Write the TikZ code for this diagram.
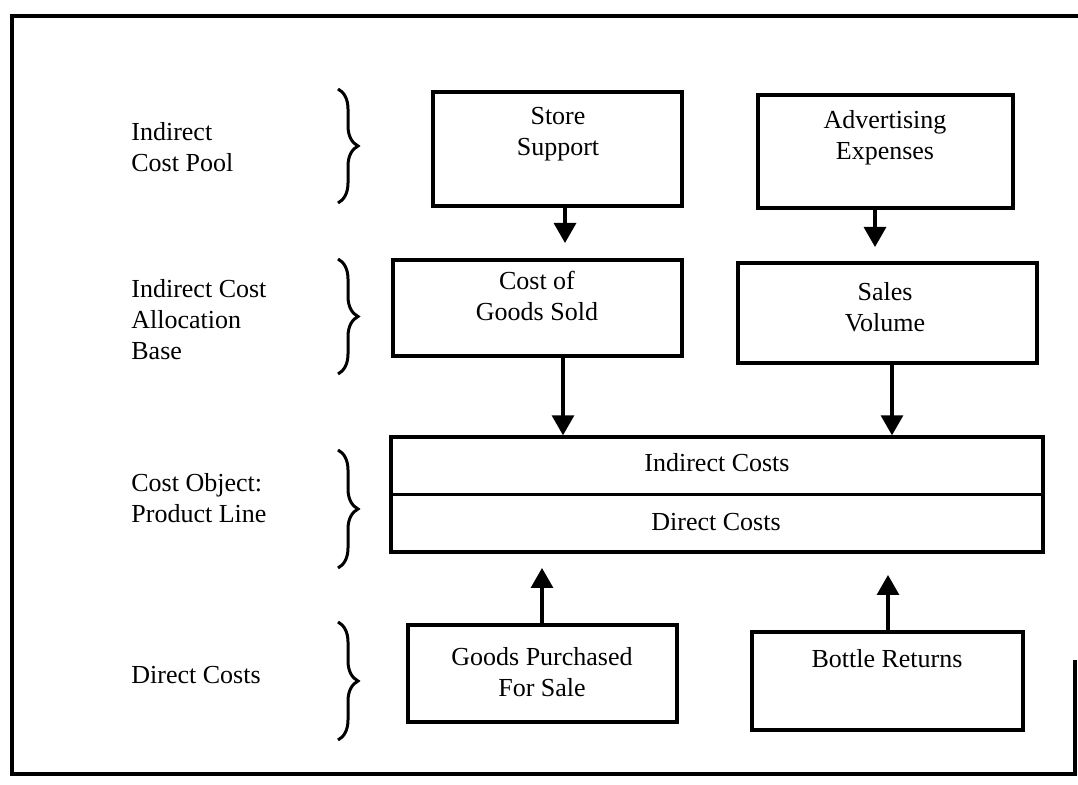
\documentclass[tikz,border=0pt]{standalone}
\usepackage{fontspec}
\setmainfont{Liberation Serif}
\usetikzlibrary{arrows.meta,decorations.pathreplacing}

\tikzset{
  box/.style={draw, line width=1.7pt, inner sep=0pt},
  txt/.style={align=center, inner sep=0pt, font=\fontsize{13pt}{15.5pt}\selectfont},
  side/.style={align=left, anchor=west, inner sep=0pt, font=\fontsize{13pt}{15.5pt}\selectfont},
  arr/.style={line width=1.6pt, -{Triangle[width=11pt,length=10pt]}},
  curly/.style={decorate, decoration={brace, amplitude=10pt}, line width=1.5pt}
}

\begin{document}
\begin{tikzpicture}[x=0.5pt, y=-0.5pt]
    \useasboundingbox (0,0) rectangle (1078,785);
    % outer frame
    \draw[line width=1.7pt] (1078,16) -- (12,16) -- (12,774) -- (1075,774) -- (1075,660);

    % level labels and braces
    \node[side] (lpool) at (131,147) {Indirect\\Cost Pool};
    \node[side] (lbase) at (131,320) {Indirect Cost\\Allocation\\Base};
    \node[side] (lobj) at (131,498) {Cost Object:\\Product Line};
    \node[side] (ldir) at (131,675) {Direct Costs};
    \draw[curly] (338,89) -- (338,203);
    \draw[curly] (338,259) -- (338,374);
    \draw[curly] (338,450) -- (338,568);
    \draw[curly] (338,622) -- (338,740);

    % cost pools
    \node[box, minimum width=124.5pt, minimum height=57pt] (store) at (557.5,149) {};
    \node[txt] (storetxt) at (558,134) {Store\\Support};
    \node[box, minimum width=127.5pt, minimum height=56.5pt] (adv) at (885.5,151.5) {};
    \node[txt] (advtxt) at (885,138) {Advertising\\Expenses};

    % allocation bases
    \node[box, minimum width=144.5pt, minimum height=48pt] (cgs) at (537.5,308) {};
    \node[txt] (cgstxt) at (537,296) {Cost of\\Goods Sold};
    \node[box, minimum width=149.5pt, minimum height=50pt] (sv) at (887.5,313) {};
    \node[txt] (svtxt) at (885,307) {Sales\\Volume};

    % cost object
    \node[box, minimum width=326pt, minimum height=57.5pt] (obj) at (717,494.5) {};
    \draw[line width=1.7pt] (obj.west) -- (obj.east);
    \node[txt] (indtxt) at (717,463) {Indirect Costs};
    \node[txt] (dirtxt) at (716,522) {Direct Costs};

    % direct costs
    \node[box, minimum width=134.5pt, minimum height=48.5pt] (goods) at (542.5,673.5) {};
    \node[txt] (goodstxt) at (542,672) {Goods Purchased\\For Sale};
    \node[box, minimum width=135.5pt, minimum height=49pt] (bottle) at (887.5,681) {};
    \node[txt] (bottletxt) at (887,659) {Bottle Returns};

    % arrows
    \coordinate (t1) at (565,243);
    \coordinate (t2) at (875,247);
    \coordinate (t3) at (563,437);
    \coordinate (t4) at (892,437);
    \coordinate (t5) at (542,568);
    \coordinate (t6) at (888,575);
    \draw[arr] (store.south -| t1) -- (t1);
    \draw[arr] (adv.south -| t2) -- (t2);
    \draw[arr] (cgs.south -| t3) -- (obj.north -| t3);
    \draw[arr] (sv.south -| t4) -- (obj.north -| t4);
    \draw[arr] (goods.north -| t5) -- (t5);
    \draw[arr] (bottle.north -| t6) -- (t6);
\end{tikzpicture}
\end{document}
